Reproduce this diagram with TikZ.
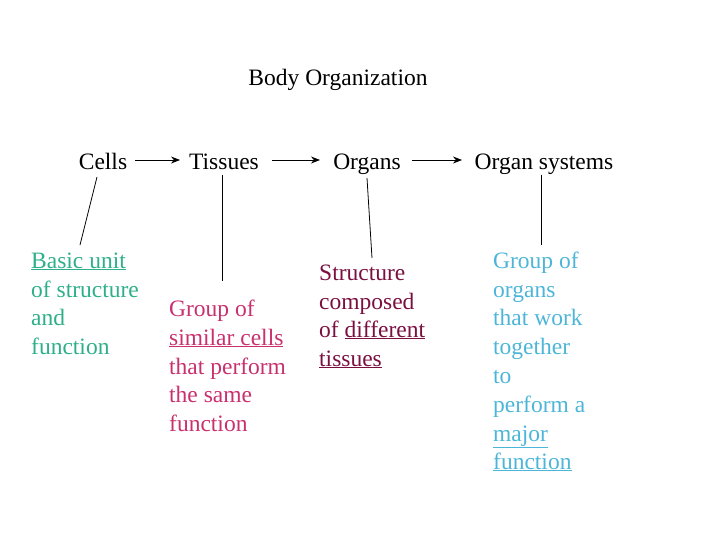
\documentclass[tikz,border=0pt]{standalone}
\usepackage{fontspec}
\setmainfont{Liberation Serif}
\usetikzlibrary{arrows.meta}
\definecolor{cgreen}{HTML}{2EAF8A}
\definecolor{cpink}{HTML}{C8306E}
\definecolor{cmaroon}{HTML}{7A1040}
\definecolor{cblue}{HTML}{4DB6D8}
\begin{document}
\begin{tikzpicture}[x=1pt,y=-1pt,
  head/.style={font=\fontsize{23.5}{28}\selectfont,anchor=base,inner sep=0pt},
  ln/.style={font=\fontsize{23.5}{28}\selectfont,anchor=base west,inner sep=0pt},
  con/.style={black,line width=0.8pt},
  arr/.style={black,line width=0.8pt,-{Stealth[length=9pt,width=7pt]}}]
\useasboundingbox (0,0) rectangle (720,540);
\node[head] (t) at (338,86) {Body Organization};
\node[head] (c) at (103,170) {Cells};
\node[head] (ti) at (224,170) {Tissues};
\node[head] (o) at (367,170) {Organs};
\node[head] (os) at (544,170) {Organ systems};
\coordinate (a1) at (135,160); \coordinate (a2) at (180,160);
\coordinate (a3) at (272,160); \coordinate (a4) at (320,160);
\coordinate (a5) at (412,160); \coordinate (a6) at (462,160);
\draw[arr] (a1) -- (a2);
\draw[arr] (a3) -- (a4);
\draw[arr] (a5) -- (a6);
\begin{scope}[every node/.style={ln,text=cgreen}]
\node (c1) at (31,268) {\underline{Basic unit}};
\node (c2) at (31,297) {of structure};
\node (c3) at (31,325) {and};
\node (c4) at (31,354) {function};
\end{scope}
\begin{scope}[every node/.style={ln,text=cpink}]
\node (s1) at (169,316) {Group of};
\node (s2) at (169,345) {\underline{similar cells}};
\node (s3) at (169,374) {that perform};
\node (s4) at (169,402) {the same};
\node (s5) at (169,431) {function};
\end{scope}
\begin{scope}[every node/.style={ln,text=cmaroon}]
\node (o1) at (319,280) {Structure};
\node (o2) at (319,309) {composed};
\node (o3) at (319,337) {of \underline{different}};
\node (o4) at (319,366) {\underline{tissues}};
\end{scope}
\begin{scope}[every node/.style={ln,text=cblue}]
\node (g1) at (493,268) {Group of};
\node (g2) at (493,297) {organs};
\node (g3) at (493,325) {that work};
\node (g4) at (493,354) {together};
\node (g5) at (493,383) {to};
\node (g6) at (493,412) {perform a};
\node (g7) at (493,441) {\underline{major}};
\node (g8) at (493,469) {\underline{function}};
\end{scope}
\coordinate (ca) at (97,177); \coordinate (cb) at (80,245);
\coordinate (ta) at (222,175); \coordinate (tb) at (222,281);
\coordinate (oa) at (367,178); \coordinate (ob) at (372,258);
\coordinate (ga) at (541,175); \coordinate (gb) at (541,245);
\draw[con] (ca) -- (cb);
\draw[con] (ta) -- (tb);
\draw[con] (oa) -- (ob);
\draw[con] (ga) -- (gb);
\end{tikzpicture}
\end{document}
